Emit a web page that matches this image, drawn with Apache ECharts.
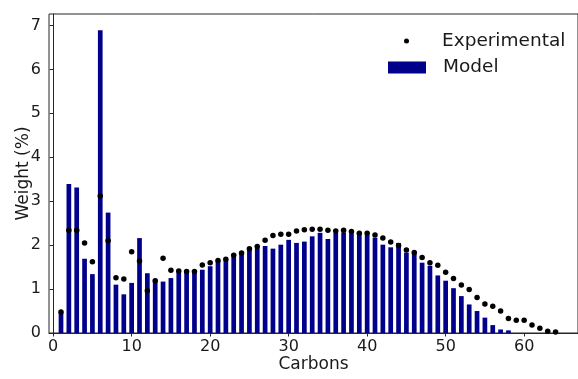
<!DOCTYPE html>
<html>
<head>
<meta charset="utf-8">
<script src="https://cdn.jsdelivr.net/npm/echarts@6/dist/echarts.min.js"></script>
<style>html,body{margin:0;padding:0;background:#fff;}#c{width:578px;height:379px;}</style>
</head>
<body>
<div id="c"></div>
<script>
const carbons = [];
for (let i = 1; i <= 64; i++) carbons.push(i);

const modelValues = [
  0.47, 3.39, 3.31, 1.69, 1.34, 6.89, 2.74, 1.10, 0.88, 1.14,
  2.16, 1.36, 1.20, 1.17, 1.25, 1.40, 1.40, 1.37, 1.44, 1.52,
  1.65, 1.66, 1.74, 1.83, 1.89, 1.94, 1.98, 1.92, 2.01, 2.12,
  2.05, 2.08, 2.20, 2.28, 2.14, 2.28, 2.29, 2.27, 2.27, 2.23,
  2.17, 2.01, 1.95, 2.05, 1.83, 1.82, 1.60, 1.53, 1.31, 1.19,
  1.02, 0.84, 0.65, 0.50, 0.35, 0.18, 0.08, 0.06
];

const experimentalValues = [
  0.48, 2.34, 2.34, 2.05, 1.62, 3.12, 2.10, 1.26, 1.23, 1.85,
  1.64, 0.96, 1.19, 1.70, 1.43, 1.41, 1.40, 1.40, 1.55, 1.60,
  1.65, 1.68, 1.77, 1.82, 1.92, 1.97, 2.11, 2.22, 2.25, 2.25,
  2.32, 2.35, 2.36, 2.36, 2.34, 2.32, 2.34, 2.31, 2.27, 2.27,
  2.23, 2.16, 2.07, 1.99, 1.89, 1.83, 1.72, 1.60, 1.54, 1.38,
  1.24, 1.09, 0.99, 0.81, 0.66, 0.61, 0.50, 0.33, 0.29, 0.29,
  0.18, 0.11, 0.04, 0.02
];

const xTicks = [0, 10, 20, 30, 40, 50, 60];
const yTicks = [0, 1, 2, 3, 4, 5, 6, 7];

const modelData = modelValues.map((v, i) => [carbons[i], v]);
const expData = experimentalValues.map((v, i) => [carbons[i], v]);

const FONT = 'DejaVu Sans';
const TXT = '#1a1a1a';
const AX = '#262626';

const chart = echarts.init(document.getElementById('c'), null, {renderer: 'canvas'});
chart.setOption({
  animation: false,
  backgroundColor: '#ffffff',
  grid: {
    left: 49, top: 14, right: 0, bottom: 46,
    containLabel: false,
    outerBoundsMode: 'none',
    show: true,
    borderColor: AX,
    borderWidth: 1,
    backgroundColor: 'transparent'
  },
  legend: [
    {
      data: [{name: 'Experimental', icon: 'circle'}],
      left: 404, top: 31.5,
      itemWidth: 37, itemHeight: 5,
      padding: 0,
      textStyle: {fontFamily: FONT, fontSize: 18.5, color: TXT, padding: [0, 0, 0, 12]}
    },
    {
      data: [{name: 'Model', icon: 'rect'}],
      left: 388, top: 58,
      itemWidth: 38, itemHeight: 12,
      padding: 0,
      textStyle: {fontFamily: FONT, fontSize: 18.5, color: TXT, padding: [0, 0, 0, 12]}
    }
  ],
  xAxis: {
    type: 'value',
    min: -0.53,
    max: 66.86,
    name: 'Carbons',
    nameLocation: 'middle',
    nameGap: 23,
    nameMoveOverlap: false,
    nameTextStyle: {fontFamily: FONT, fontSize: 17, color: TXT},
    splitLine: {show: false},
    axisLine: {show: true, onZero: false, lineStyle: {color: AX, width: 1}},
    axisTick: {show: true, length: 3.5, lineStyle: {color: AX}, customValues: xTicks},
    axisLabel: {fontFamily: FONT, fontSize: 16, color: TXT, margin: 6, customValues: xTicks}
  },
  yAxis: {
    type: 'value',
    min: 0,
    max: 7.26,
    name: 'Weight (%)',
    nameLocation: 'middle',
    nameGap: 17,
    nameMoveOverlap: false,
    nameRotate: 90,
    nameTextStyle: {fontFamily: FONT, fontSize: 17, color: TXT},
    splitLine: {show: false},
    axisLine: {show: true, lineStyle: {color: AX, width: 1}},
    axisTick: {show: true, length: 3.5, lineStyle: {color: AX}, customValues: yTicks},
    axisLabel: {fontFamily: FONT, fontSize: 16, color: TXT, margin: 8, customValues: yTicks}
  },
  series: [
    {
      name: 'Model',
      type: 'bar',
      data: modelData,
      barWidth: 4.7,
      itemStyle: {color: '#00008b'},
      z: 2
    },
    {
      name: 'Experimental',
      type: 'scatter',
      data: expData,
      symbol: 'circle',
      symbolSize: 5.5,
      itemStyle: {color: '#000000', opacity: 1},
      z: 3
    }
  ]
});
</script>
</body>
</html>
